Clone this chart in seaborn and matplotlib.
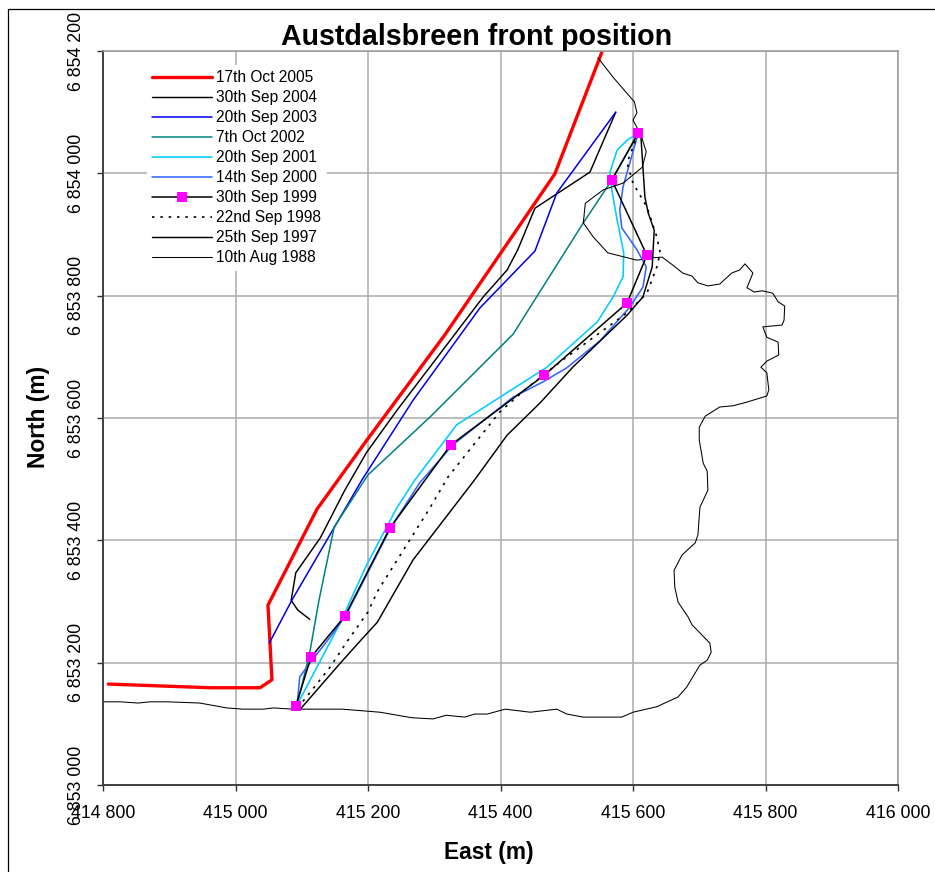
import matplotlib
matplotlib.use("Agg")
import matplotlib.pyplot as plt
from matplotlib.lines import Line2D
import seaborn as sns

east_2005 = [414808, 414962, 415037, 415055, 415049, 415123, 415197, 415316, 415482, 415553]
north_2005 = [6853165, 6853159, 6853159, 6853172, 6853294, 6853451, 6853562, 6853736, 6853999, 6854198]

east_2004 = [415112, 415094, 415084, 415091, 415128, 415165, 415198, 415244, 415374, 415410, 415426, 415452, 415535, 415574]
north_2004 = [6853271, 6853286, 6853302, 6853347, 6853404, 6853482, 6853544, 6853613, 6853798, 6853842, 6853875, 6853943, 6854002, 6854100]

east_2003 = [415051, 415085, 415191, 415268, 415369, 415452, 415485, 415574]
north_2003 = [6853232, 6853302, 6853499, 6853629, 6853780, 6853873, 6853968, 6854100]

east_2002 = [415093, 415112, 415126, 415149, 415200, 415294, 415419, 415525, 415568, 415608]
north_2002 = [6853131, 6853216, 6853302, 6853422, 6853507, 6853602, 6853737, 6853919, 6853989, 6854066]

east_2001 = [415093, 415158, 415198, 415244, 415271, 415334, 415470, 415546, 415570, 415585, 415586, 415576, 415568, 415565, 415576, 415591, 415608]
north_2001 = [6853131, 6853265, 6853360, 6853454, 6853499, 6853589, 6853683, 6853757, 6853798, 6853831, 6853870, 6853924, 6853973, 6854001, 6854038, 6854054, 6854066]

east_2000 = [415093, 415097, 415112, 415143, 415167, 415235, 415278, 415328, 415419, 415464, 415500, 415550, 415595, 415615, 415620, 415606, 415583, 415580, 415585, 415608]
north_2000 = [6853131, 6853177, 6853199, 6853242, 6853278, 6853422, 6853494, 6853556, 6853634, 6853659, 6853682, 6853726, 6853781, 6853814, 6853847, 6853875, 6853911, 6853940, 6853978, 6854066]

east_1999 = [415091, 415114, 415165, 415233, 415325, 415466, 415591, 415621, 415568, 415608]
north_1999 = [6853129, 6853209, 6853276, 6853420, 6853556, 6853670, 6853788, 6853866, 6853989, 6854066]

east_1998 = [415094, 415143, 415168, 415200, 415214, 415294, 415321, 415399, 415440, 415494, 415591, 415621, 415636, 415641, 415636, 415621, 415600, 415591, 415608]
north_1998 = [6853126, 6853193, 6853234, 6853283, 6853316, 6853454, 6853504, 6853610, 6853649, 6853695, 6853772, 6853804, 6853847, 6853870, 6853896, 6853945, 6853984, 6854017, 6854066]

east_1997 = [415097, 415158, 415192, 415214, 415268, 415361, 415410, 415460, 415509, 415591, 415615, 415629, 415632, 415623, 415618, 415612, 415608]
north_1997 = [6853123, 6853199, 6853240, 6853266, 6853368, 6853499, 6853572, 6853625, 6853683, 6853768, 6853798, 6853847, 6853907, 6853935, 6853961, 6854059, 6854066]

east_1988 = [414800, 414826, 414853, 414871, 414897, 414946, 414987, 415011, 415042, 415057, 415087, 415097, 415161, 415218, 415266, 415298,
             415318, 415346, 415361, 415380, 415407, 415445, 415485, 415500, 415525, 415583, 415600, 415636, 415668, 415681, 415701, 415712,
             415718, 415716, 415689, 415683, 415668, 415663, 415662, 415674, 415694, 415698, 415701, 415713, 415712, 415706, 415700, 415700,
             415709, 415731, 415751, 415772, 415802, 415805, 415802, 415793, 415802, 415820, 415819, 415802, 415796, 415825, 415828, 415829,
             415819, 415811, 415795, 415783, 415772, 415781, 415769, 415761, 415749, 415731, 415713, 415698, 415689, 415675, 415660, 415644,
             415629, 415606, 415562, 415540, 415525, 415528, 415555, 415585, 415614, 415620, 415612, 415600, 415606, 415602, 415570, 415547]
north_1988 = [6853136, 6853136, 6853134, 6853136, 6853136, 6853134, 6853126, 6853124, 6853124, 6853126, 6853124, 6853124, 6853124, 6853119, 6853110, 6853108,
              6853114, 6853111, 6853116, 6853116, 6853124, 6853119, 6853124, 6853116, 6853111, 6853111, 6853119, 6853128, 6853144, 6853160, 6853196, 6853204,
              6853217, 6853232, 6853262, 6853275, 6853299, 6853324, 6853351, 6853376, 6853396, 6853409, 6853454, 6853482, 6853513, 6853526, 6853564, 6853585,
              6853603, 6853618, 6853620, 6853626, 6853636, 6853646, 6853674, 6853683, 6853693, 6853703, 6853724, 6853732, 6853749, 6853752, 6853760, 6853783,
              6853790, 6853804, 6853808, 6853806, 6853813, 6853837, 6853852, 6853842, 6853837, 6853819, 6853816, 6853821, 6853832, 6853837, 6853850, 6853863,
              6853862, 6853858, 6853870, 6853896, 6853919, 6853951, 6853973, 6853984, 6854010, 6854035, 6854063, 6854087, 6854099, 6854117, 6854157, 6854189]

labels = ["17th Oct 2005", "30th Sep 2004", "20th Sep 2003", "7th Oct 2002", "20th Sep 2001",
          "14th Sep 2000", "30th Sep 1999", "22nd Sep 1998", "25th Sep 1997", "10th Aug 1988"]
x_ticks = [414800, 415000, 415200, 415400, 415600, 415800, 416000]
y_ticks = [6853000, 6853200, 6853400, 6853600, 6853800, 6854000, 6854200]

sns.set_theme(style="white")
plt.rcParams["font.family"] = ["Liberation Sans", "DejaVu Sans"]

W, H = 935, 872
fig = plt.figure(figsize=(W / 100, H / 100), dpi=100, facecolor="white")
ax = fig.add_axes([103 / W, (H - 785) / H, (898 - 103) / W, (785 - 51) / H])

series = [
    (east_2005, north_2005, dict(color="#ff0000", linewidth=2.4)),
    (east_2004, north_2004, dict(color="black", linewidth=1.05)),
    (east_2003, north_2003, dict(color="#0000e6", linewidth=1.1)),
    (east_2002, north_2002, dict(color="#008080", linewidth=1.1)),
    (east_2001, north_2001, dict(color="#00ccff", linewidth=1.15)),
    (east_2000, north_2000, dict(color="#3366ff", linewidth=1.15)),
    (east_1999, north_1999, dict(color="black", linewidth=1.1, marker="s", markersize=6.6,
                                 markerfacecolor="#ff00ff", markeredgewidth=0, zorder=5)),
    (east_1998, north_1998, dict(color="black", linewidth=1.2, linestyle=(0, (1.5, 3.5)))),
    (east_1997, north_1997, dict(color="black", linewidth=1.05)),
    (east_1988, north_1988, dict(color="black", linewidth=0.75)),
]
for (xs, ys, style), label in zip(series, labels):
    sns.lineplot(x=xs, y=ys, sort=False, estimator=None, errorbar=None, label=label, ax=ax, **style)

ax.set_xlim(x_ticks[0], x_ticks[-1])
ax.set_ylim(y_ticks[0], y_ticks[-1])
ax.set_xticks(x_ticks)
ax.set_yticks(y_ticks)
ax.set_xticklabels([f"{v:,}".replace(",", " ") for v in x_ticks])
ax.set_yticklabels([f"{v:,}".replace(",", " ") for v in y_ticks], rotation=90, va="center")
ax.tick_params(axis="x", length=4.5, width=1.0, color="#303030", pad=10, labelsize=12.8, labelcolor="black", bottom=True)
ax.tick_params(axis="y", length=4.5, width=1.0, color="#303030", pad=8.5, labelsize=12.8, labelcolor="black", left=True)
ax.grid(True, color="#ababab", linewidth=1.1)
ax.set_axisbelow(True)
for side in ("left", "bottom"):
    ax.spines[side].set_color("#404040")
    ax.spines[side].set_linewidth(1.4)
for side in ("top", "right"):
    ax.spines[side].set_color("#999999")
    ax.spines[side].set_linewidth(1.1)

ax.set_xlabel("")
ax.set_ylabel("")
fig.text(477 / W, 1 - 37 / H, "Austdalsbreen front position", ha="center", va="center",
         fontsize=20.6, fontweight="bold", color="black")
fig.text(489 / W, 1 - 852 / H, "East (m)", ha="center", va="center",
         fontsize=16.4, fontweight="bold", color="black")
fig.text(38 / W, 1 - 417 / H, "North (m)", ha="center", va="center", rotation=90,
         fontsize=16.4, fontweight="bold", color="black")

leg = ax.legend(loc="upper left", bbox_to_anchor=((147 - 103) / 795, (785 - 65) / 734),
                frameon=True, framealpha=1, facecolor="white", edgecolor="none", fancybox=False,
                fontsize=11.2, handlelength=3.8, handletextpad=0.3, labelspacing=0.32,
                borderaxespad=0, borderpad=0.35, labelcolor="black")

fig.add_artist(Line2D([8 / W, 8 / W], [0, 1 - 9 / H], transform=fig.transFigure, color="black", linewidth=0.9))
fig.add_artist(Line2D([8 / W, 1], [1 - 9 / H, 1 - 9 / H], transform=fig.transFigure, color="black", linewidth=0.9))

fig.savefig("out.png", dpi=100, facecolor="white")
